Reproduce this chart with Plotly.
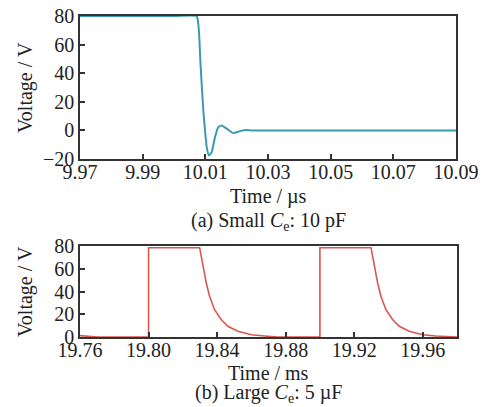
import plotly.graph_objects as go

# (a) Small Ce: 10 pF  -- time in µs, voltage in V
t_a = [9.97, 10.000, 10.0072, 10.0076, 10.0080, 10.0084, 10.00935, 10.0099, 10.01044,
       10.01117, 10.01203, 10.01309, 10.01414, 10.01523, 10.01682, 10.01893,
       10.02107, 10.02321, 10.0249, 10.05, 10.09]
v_a = [80, 80, 80, 77, 68, 49, 14, 0, -11.7, -17.5, -15.2, -4.7, 2.3, 3.5, 1.2, -1.9,
       -0.5, 0.3, 0, 0, 0]

# (b) Large Ce: 5 µF  -- time in ms, voltage in V
t_b = [19.760, 19.765, 19.770, 19.8000, 19.8000, 19.8298, 19.8304, 19.8317, 19.8337,
       19.8356, 19.8385, 19.8425, 19.8463, 19.8521, 19.8600, 19.8677, 19.875,
       19.9000, 19.9000, 19.9298, 19.9304, 19.9317, 19.9337, 19.9356, 19.9385,
       19.9425, 19.9463, 19.9521, 19.9600, 19.9677, 19.975, 19.980]
v_b = [1.2, 0.5, 0, 0, 78.5, 78.5, 73.8, 60.7, 47.5, 35.8, 24.0, 15.2, 9.4, 5.0, 2.0,
       0.9, 0, 0, 78.5, 78.5, 73.8, 60.7, 47.5, 35.8, 24.0, 15.2, 9.4, 5.0, 2.0,
       0.9, 0, 0]

ticks_a = [9.97, 9.99, 10.01, 10.03, 10.05, 10.07, 10.09]
ticks_b = [19.76, 19.80, 19.84, 19.88, 19.92, 19.96]
yticks_a = [-20, 0, 20, 40, 60, 80]
yticks_b = [0, 20, 40, 60, 80]

W, H = 485, 407
FONT = "Liberation Serif"
FS = 20
AXC = "#333333"

def py(p):
    return 1 - p / H

def px(p):
    return p / W

fig = go.Figure()
fig.add_trace(go.Scatter(x=t_a, y=v_a, mode="lines",
                         line=dict(color="#3a9bb0", width=2, shape="spline", smoothing=0.5),
                         xaxis="x", yaxis="y", showlegend=False))
fig.add_trace(go.Scatter(x=t_b, y=v_b, mode="lines",
                         line=dict(color="#d9574f", width=1.6),
                         xaxis="x2", yaxis="y2", showlegend=False))

axcommon = dict(showgrid=False, zeroline=False, showline=True, linecolor=AXC, linewidth=1.5,
                mirror=True, ticks="inside", ticklen=5, tickwidth=1.5, tickcolor=AXC,
                automargin=False,
                tickfont=dict(family=FONT, size=FS, color="#222"))

fig.update_layout(
    width=W, height=H, margin=dict(l=0, r=0, t=0, b=0),
    paper_bgcolor="white", plot_bgcolor="white",
    xaxis=dict(domain=[px(80), px(456)], anchor="y", range=[9.97, 10.09], tickvals=ticks_a,
               ticktext=[f"{v:.2f}" for v in ticks_a], ticklabelstandoff=-6, **axcommon),
    yaxis=dict(domain=[py(159), py(16)], anchor="x", range=[-20, 80], tickvals=yticks_a, **axcommon),
    xaxis2=dict(domain=[px(80), px(457)], anchor="y2", range=[19.76, 19.98], tickvals=ticks_b,
                ticktext=[f"{v:.2f}" for v in ticks_b], ticklabelstandoff=-6, **axcommon),
    yaxis2=dict(domain=[py(337), py(246)], anchor="x2", range=[0, 80], tickvals=yticks_b, **axcommon),
)

def ann(text, x, y, angle=0):
    fig.add_annotation(text=text, x=px(x), y=py(y), xref="paper", yref="paper",
                       showarrow=False, textangle=angle, xanchor="center", yanchor="middle",
                       font=dict(family=FONT, size=FS, color="#222"))

ann("Time / µs", 268, 196)
ann("(a) Small <i>C</i><sub>e</sub>: 10 pF", 268, 222)
ann("Voltage / V", 25, 88, -90)
ann("Time / ms", 268, 373)
ann("(b) Large <i>C</i><sub>e</sub>: 5 µF", 268, 393)
ann("Voltage / V", 25, 292, -90)

fig.write_html("out.html", config={"displayModeBar": False},
               post_script="document.body.style.margin='0';document.body.style.overflow='hidden';")
